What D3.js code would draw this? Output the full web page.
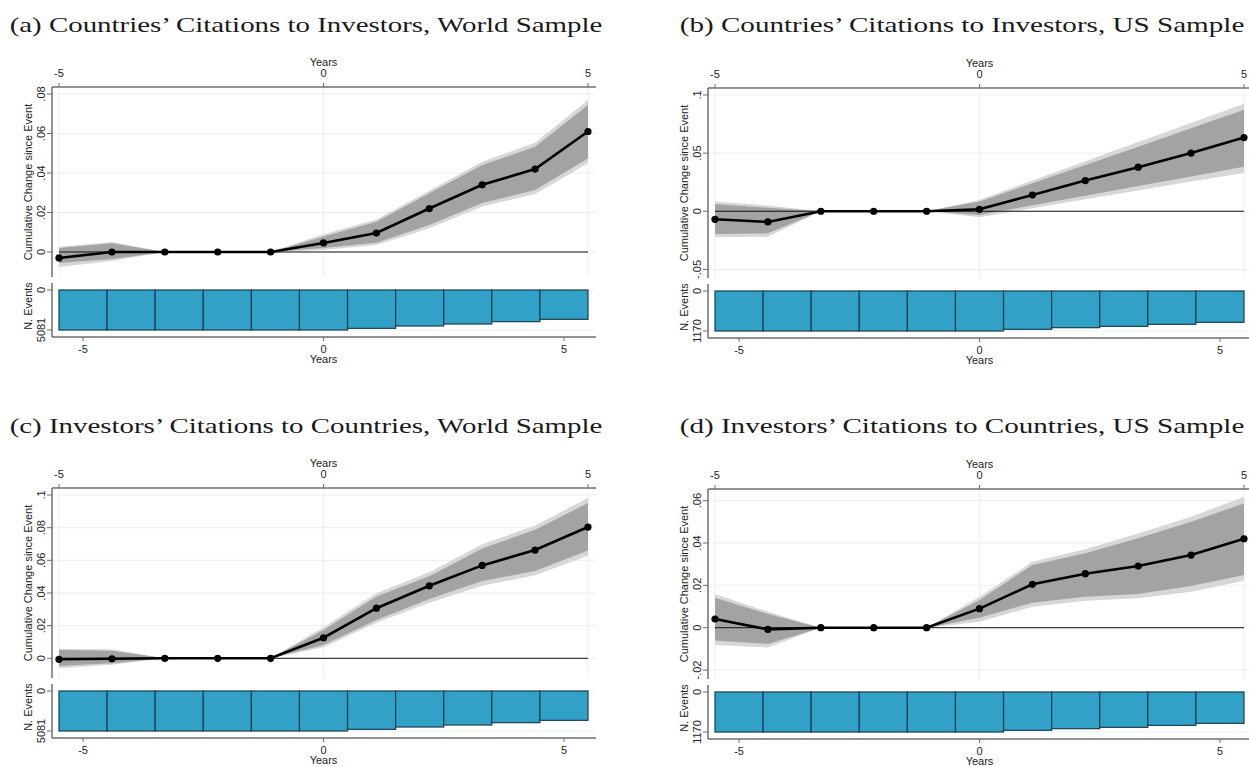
<!DOCTYPE html>
<html>
<head>
<meta charset="utf-8">
<script src="https://cdn.jsdelivr.net/npm/d3@7"></script>
<style>
  body { margin: 0; background: #fff; }
  svg { display: block; }
  .axis-text { font-family: "Liberation Sans", Arial, sans-serif; font-size: 11px; fill: #222; }
  .title { font-family: "Liberation Serif", "DejaVu Serif", serif; font-size: 21px; fill: #1a1a1a; }
</style>
</head>
<body>
<div id="chart"></div>
<script>

// Event time (years since event)
var years = [-5, -4, -3, -2, -1, 0, 1, 2, 3, 4, 5];

// Number of events per year
var worldEvents = [5081, 5081, 5081, 5081, 5081, 5081, 4869, 4573, 4319, 4022, 3726];
var usEvents = [1170, 1170, 1170, 1170, 1170, 1170, 1121, 1073, 1034, 975, 917];

// (a) Countries' citations to investors, world sample
var coefA = [-0.003, 0, 0, 0, 0, 0.0046, 0.0096, 0.022, 0.034, 0.042, 0.061];
var hi90A = [0.002, 0.0044, 0, 0, 0, 0.0078, 0.0153, 0.0297, 0.044, 0.0533, 0.0744];
var lo90A = [-0.0056, -0.0036, 0, 0, 0, 0.002, 0.0047, 0.0137, 0.0248, 0.0314, 0.0474];
var hi95A = [0.0027, 0.005, 0, 0, 0, 0.009, 0.0165, 0.031, 0.0457, 0.0553, 0.077];
var lo95A = [-0.0076, -0.0045, 0, 0, 0, 0.001, 0.0035, 0.012, 0.023, 0.0294, 0.0449];

// (b) Countries' citations to investors, US sample
var coefB = [-0.0069, -0.0092, 0, 0, 0, 0.0017, 0.014, 0.0264, 0.0379, 0.05, 0.0634];
var hi90B = [0.0063, 0.003, 0, 0, 0, 0.0083, 0.0241, 0.0397, 0.0555, 0.0713, 0.0873];
var lo90B = [-0.0196, -0.019, 0, 0, 0, -0.0032, 0.0051, 0.0134, 0.0218, 0.0299, 0.0382];
var hi95B = [0.0083, 0.005, 0, 0, 0, 0.0097, 0.0265, 0.043, 0.0595, 0.0759, 0.0925];
var lo95B = [-0.0224, -0.022, 0, 0, 0, -0.0052, 0.0025, 0.0103, 0.0178, 0.0256, 0.033];

// (c) Investors' citations to countries, world sample
var coefC = [-0.0006, -0.0003, 0, 0, 0, 0.0126, 0.0307, 0.0444, 0.0569, 0.0663, 0.0804];
var hi90C = [0.0051, 0.0047, 0, 0, 0, 0.0174, 0.0378, 0.0502, 0.0672, 0.0788, 0.0951];
var lo90C = [-0.0047, -0.0031, 0, 0, 0, 0.0082, 0.0235, 0.0363, 0.0473, 0.0535, 0.066];
var hi95C = [0.0059, 0.0055, 0, 0, 0, 0.019, 0.0399, 0.0527, 0.0699, 0.0813, 0.0982];
var lo95C = [-0.0061, -0.004, 0, 0, 0, 0.0067, 0.0218, 0.0341, 0.0444, 0.0509, 0.0628];

// (d) Investors' citations to countries, US sample
var coefD = [0.0041, -0.0008, 0, 0, 0, 0.009, 0.0205, 0.0255, 0.0291, 0.0343, 0.042];
var hi90D = [0.0142, 0.0065, 0, 0, 0, 0.0131, 0.0296, 0.0351, 0.0422, 0.05, 0.0587];
var lo90D = [-0.0061, -0.0077, 0, 0, 0, 0.0047, 0.0118, 0.0146, 0.0159, 0.0197, 0.0249];
var hi95D = [0.0159, 0.0075, 0, 0, 0, 0.0146, 0.0311, 0.037, 0.0445, 0.0524, 0.0618];
var lo95D = [-0.0082, -0.0093, 0, 0, 0, 0.0028, 0.0099, 0.0127, 0.0139, 0.017, 0.0222];

// Axis ticks
var xTicks = [-5, 0, 5];
var yTicksA = [0, 0.02, 0.04, 0.06, 0.08];
var yTicksB = [-0.05, 0, 0.05, 0.1];
var yTicksC = [0, 0.02, 0.04, 0.06, 0.08, 0.1];
var yTicksD = [-0.02, 0, 0.02, 0.04, 0.06];

// Panel titles
var titles = [
	"(a) Countries\u2019 Citations to Investors, World Sample",
	"(b) Countries\u2019 Citations to Investors, US Sample",
	"(c) Investors\u2019 Citations to Countries, World Sample",
	"(d) Investors\u2019 Citations to Countries, US Sample"
];

var width = 1249, height = 767;

// Panel geometry (relative to each panel's origin)
var plotW = 544, plotH = 190;
var barTop = 203, barBottom = 243, botAxisY = 250, botPanelTop = 196;

var gridColor = "#e8f0f1";
var axisColor = "#6e6e6e";
var barColor = "#31a1c8";

var svg = d3.select("#chart").append("svg")
	.attr("width", width)
	.attr("height", height);

var panels = [
	{ ox: 52, oy: 87, tx: 306, ty: 32, tw: 593, title: titles[0], yDomain: [-0.01266, 0.08354], yTicks: yTicksA,
	  coef: coefA, hi90: hi90A, lo90: lo90A, hi95: hi95A, lo95: lo95A, events: worldEvents },
	{ ox: 708, oy: 88, tx: 962, ty: 32, tw: 565, title: titles[1], yDomain: [-0.0574, 0.106], yTicks: yTicksB,
	  coef: coefB, hi90: hi90B, lo90: lo90B, hi95: hi95B, lo95: lo95B, events: usEvents },
	{ ox: 52, oy: 488, tx: 306, ty: 433, tw: 593, title: titles[2], yDomain: [-0.01206, 0.1043], yTicks: yTicksC,
	  coef: coefC, hi90: hi90C, lo90: lo90C, hi95: hi95C, lo95: lo95C, events: worldEvents },
	{ ox: 708, oy: 489, tx: 962, ty: 433, tw: 565, title: titles[3], yDomain: [-0.02423, 0.0655], yTicks: yTicksD,
	  coef: coefD, hi90: hi90D, lo90: lo90D, hi95: hi95D, lo95: lo95D, events: usEvents }
];

panels.forEach(drawPanel);

/**
 * Format y tick labels the Stata way (.02, -.05, 0).
 */
function fmtY(d) {
	if (d === 0) return "0";
	return String(+d.toFixed(3)).replace("0.", ".");
}

/**
 * Draw one event-study panel: coefficients with bands on top,
 * number of events as hanging bars below.
 */
function drawPanel(p) {

	// Title, stretched horizontally to the width of the original caption
	var title = svg.append("text")
		.attr("class", "title")
		.attr("text-anchor", "middle")
		.text(p.title);
	var natural = title.node().getComputedTextLength();
	title.attr("transform", "translate(" + p.tx + "," + p.ty + ") scale(" + (p.tw / natural) + ",1)");

	var g = svg.append("g")
		.attr("transform", "translate(" + p.ox + "," + p.oy + ")");

	// Scales
	var x = d3.scaleLinear().domain([-5, 5]).range([7, 536]);
	var xb = d3.scaleLinear().domain([-5.5, 5.5]).range([7, 536]);
	var y = d3.scaleLinear().domain(p.yDomain).range([plotH, 0]);
	var yb = d3.scaleLinear().domain([0, d3.max(p.events)]).range([barTop, barBottom]);

	var rows = years.map(function(t, i) {
		return { t: t, c: p.coef[i], h90: p.hi90[i], l90: p.lo90[i], h95: p.hi95[i], l95: p.lo95[i], n: p.events[i] };
	});

	// Gridlines
	g.append("g").selectAll("line")
		.data(p.yTicks)
		.enter().append("line")
			.attr("x1", 0).attr("x2", plotW)
			.attr("y1", function(d) { return y(d); })
			.attr("y2", function(d) { return y(d); })
			.attr("stroke", gridColor).attr("stroke-width", 1);

	g.append("g").selectAll("line")
		.data(xTicks)
		.enter().append("line")
			.attr("x1", function(d) { return x(d); })
			.attr("x2", function(d) { return x(d); })
			.attr("y1", 0).attr("y2", plotH)
			.attr("stroke", gridColor).attr("stroke-width", 1);

	g.append("g").selectAll("line")
		.data(yb.domain())
		.enter().append("line")
			.attr("x1", 0).attr("x2", plotW)
			.attr("y1", function(d) { return yb(d); })
			.attr("y2", function(d) { return yb(d); })
			.attr("stroke", gridColor).attr("stroke-width", 1);

	// Confidence bands
	var area95 = d3.area()
		.x(function(d) { return x(d.t); })
		.y0(function(d) { return y(d.l95); })
		.y1(function(d) { return y(d.h95); });
	var area90 = d3.area()
		.x(function(d) { return x(d.t); })
		.y0(function(d) { return y(d.l90); })
		.y1(function(d) { return y(d.h90); });

	g.append("path").datum(rows).attr("d", area95).attr("fill", "#d7d7d7");
	g.append("path").datum(rows).attr("d", area90).attr("fill", "#a3a3a3");

	// Zero line
	g.append("line")
		.attr("x1", x(-5)).attr("x2", x(5))
		.attr("y1", y(0)).attr("y2", y(0))
		.attr("stroke", "#111").attr("stroke-width", 1);

	// Coefficient line and markers
	var line = d3.line()
		.x(function(d) { return x(d.t); })
		.y(function(d) { return y(d.c); });

	g.append("path").datum(rows)
		.attr("d", line)
		.attr("fill", "none")
		.attr("stroke", "#000")
		.attr("stroke-width", 2.6);

	g.append("g").selectAll("circle")
		.data(rows)
		.enter().append("circle")
			.attr("cx", function(d) { return x(d.t); })
			.attr("cy", function(d) { return y(d.c); })
			.attr("r", 3.6)
			.attr("fill", "#000");

	// Top axis
	g.append("line")
		.attr("x1", 0).attr("x2", plotW).attr("y1", 0).attr("y2", 0)
		.attr("stroke", axisColor).attr("stroke-width", 1.5);
	g.append("g").selectAll("line")
		.data(xTicks)
		.enter().append("line")
			.attr("x1", function(d) { return x(d); })
			.attr("x2", function(d) { return x(d); })
			.attr("y1", -4).attr("y2", 0)
			.attr("stroke", axisColor);
	g.append("g").selectAll("text")
		.data(xTicks)
		.enter().append("text")
			.attr("class", "axis-text")
			.attr("x", function(d) { return x(d); })
			.attr("y", -10)
			.attr("text-anchor", "middle")
			.text(function(d) { return d; });
	g.append("text")
		.attr("class", "axis-text")
		.attr("x", x(0)).attr("y", -21)
		.attr("text-anchor", "middle")
		.text("Years");

	// Left axis, top plot
	g.append("line")
		.attr("x1", 0).attr("x2", 0).attr("y1", 0).attr("y2", plotH)
		.attr("stroke", axisColor).attr("stroke-width", 1.5);
	g.append("g").selectAll("line")
		.data(p.yTicks)
		.enter().append("line")
			.attr("x1", -5).attr("x2", 0)
			.attr("y1", function(d) { return y(d); })
			.attr("y2", function(d) { return y(d); })
			.attr("stroke", axisColor);
	g.append("g").selectAll("text")
		.data(p.yTicks)
		.enter().append("text")
			.attr("class", "axis-text")
			.attr("text-anchor", "middle")
			.attr("transform", function(d) { return "translate(-7," + y(d) + ") rotate(-90)"; })
			.text(fmtY);
	g.append("text")
		.attr("class", "axis-text")
		.attr("text-anchor", "middle")
		.attr("transform", "translate(-20," + (plotH / 2) + ") rotate(-90)")
		.text("Cumulative Change since Event");

	// Event count bars (hanging from zero)
	g.append("g").selectAll("rect")
		.data(rows)
		.enter().append("rect")
			.attr("x", function(d) { return xb(d.t - 0.5); })
			.attr("width", function(d) { return xb(d.t + 0.5) - xb(d.t - 0.5); })
			.attr("y", yb(0))
			.attr("height", function(d) { return yb(d.n) - yb(0); })
			.attr("fill", barColor)
			.attr("stroke", "#1b3f4f")
			.attr("stroke-width", 1.2);

	// Left axis, bottom plot
	g.append("line")
		.attr("x1", 0).attr("x2", 0).attr("y1", botPanelTop).attr("y2", botAxisY)
		.attr("stroke", axisColor).attr("stroke-width", 1.5);
	g.append("g").selectAll("line")
		.data(yb.domain())
		.enter().append("line")
			.attr("x1", -5).attr("x2", 0)
			.attr("y1", function(d) { return yb(d); })
			.attr("y2", function(d) { return yb(d); })
			.attr("stroke", axisColor);
	g.append("g").selectAll("text")
		.data(yb.domain())
		.enter().append("text")
			.attr("class", "axis-text")
			.attr("text-anchor", "middle")
			.attr("transform", function(d) { return "translate(-7," + yb(d) + ") rotate(-90)"; })
			.text(function(d) { return d; });
	g.append("text")
		.attr("class", "axis-text")
		.attr("text-anchor", "middle")
		.attr("transform", "translate(-20," + ((botPanelTop + botAxisY) / 2 - 4) + ") rotate(-90)")
		.text("N. Events");

	// Bottom axis
	g.append("line")
		.attr("x1", 0).attr("x2", plotW).attr("y1", botAxisY).attr("y2", botAxisY)
		.attr("stroke", axisColor).attr("stroke-width", 1.5);
	g.append("g").selectAll("line")
		.data(xTicks)
		.enter().append("line")
			.attr("x1", function(d) { return xb(d); })
			.attr("x2", function(d) { return xb(d); })
			.attr("y1", botAxisY).attr("y2", botAxisY + 4)
			.attr("stroke", axisColor);
	g.append("g").selectAll("text")
		.data(xTicks)
		.enter().append("text")
			.attr("class", "axis-text")
			.attr("x", function(d) { return xb(d); })
			.attr("y", botAxisY + 16)
			.attr("text-anchor", "middle")
			.text(function(d) { return d; });
	g.append("text")
		.attr("class", "axis-text")
		.attr("x", xb(0)).attr("y", botAxisY + 26)
		.attr("text-anchor", "middle")
		.text("Years");
}

</script>
</body>
</html>
